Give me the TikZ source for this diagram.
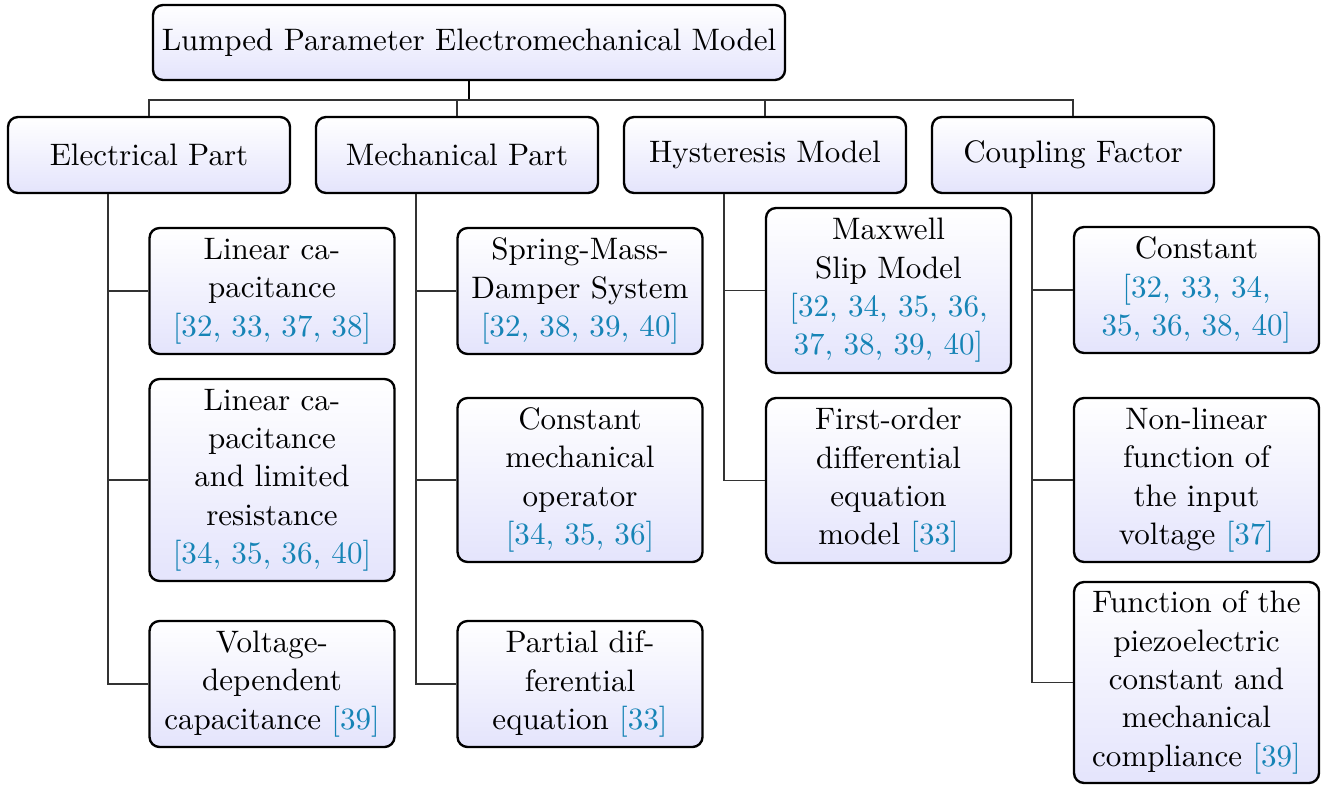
\documentclass[tikz,border=0pt]{standalone}
\usepackage{fontspec}
\usepackage{xcolor}
\definecolor{citeblue}{RGB}{22,132,182}
\definecolor{boxblue}{RGB}{228,228,252}
\newcommand\pxs{0.33898pt}
\newcommand\rf[1]{\textcolor{citeblue}{#1}}
\tikzset{
  box/.style={draw=black, line width=0.8pt, rounded corners=3.4pt,
    top color=white, bottom color=boxblue, align=center, inner sep=0pt,
    font=\fontsize{10.52}{13.0}\selectfont},
  lvone/.style={box, minimum width=282*\pxs, minimum height=76*\pxs},
  leaf/.style={box, minimum width=245*\pxs},
  link/.style={draw=black!80, line width=0.5pt}
}
\begin{document}
\begin{tikzpicture}[x=\pxs,y=-\pxs]
\useasboundingbox (0,0) rectangle (1324,784);
\node[box, minimum width=632*\pxs, minimum height=75*\pxs] (root) at (469,42.5) {Lumped Parameter Electromechanical Model};
\node[lvone] (E) at (149,155) {Electrical Part};
\node[lvone] (M) at (457,155) {Mechanical Part};
\node[lvone] (H) at (765,155) {Hysteresis Model};
\node[lvone] (C) at (1073,155) {Coupling Factor};
% electrical children
\node[leaf, minimum height=126*\pxs] (e1) at (272,291) {Linear ca-\\pacitance\\\rf{[32, 33, 37, 38]}};
\node[leaf, minimum height=202*\pxs] (e2) at (272,480) {Linear ca-\\pacitance\\and limited\\resistance\\\rf{[34, 35, 36, 40]}};
\node[leaf, minimum height=126*\pxs] (e3) at (272,684) {Voltage-\\dependent\\capacitance \rf{[39]}};
% mechanical children
\node[leaf, minimum height=126*\pxs] (m1) at (580,291) {Spring-Mass-\\Damper System\\\rf{[32, 38, 39, 40]}};
\node[leaf, minimum height=164*\pxs] (m2) at (580,480) {Constant\\mechanical\\operator\\\rf{[34, 35, 36]}};
\node[leaf, minimum height=126*\pxs] (m3) at (580,684) {Partial dif-\\ferential\\equation \rf{[33]}};
% hysteresis children
\node[leaf, minimum height=165*\pxs] (h1) at (888.5,290.5) {Maxwell\\Slip Model\\\rf{[32, 34, 35, 36,}\\\rf{37, 38, 39, 40]}};
\node[leaf, minimum height=165*\pxs] (h2) at (888.5,480.5) {First-order\\differential\\equation\\model \rf{[33]}};
% coupling children
\node[leaf, minimum height=126*\pxs] (c1) at (1196.5,290) {Constant\\\rf{[32, 33, 34,}\\\rf{35, 36, 38, 40]}};
\node[leaf, minimum height=164*\pxs] (c2) at (1196.5,480) {Non-linear\\function of\\the input\\voltage \rf{[37]}};
\node[leaf, minimum height=201*\pxs] (c3) at (1196.5,682.5) {Function of the\\piezoelectric\\constant and\\mechanical\\compliance \rf{[39]}};
% connectors
\coordinate (bus) at ([yshift=-19*\pxs]root.south);
\draw[link, draw=black, line width=0.8pt] (root.south) -- (bus);
\foreach \n in {E,M,H,C}{
  \draw[link] (bus) -| (\n.north);
}
\foreach \p/\c in {E/e1,E/e2,E/e3,M/m1,M/m2,M/m3,H/h1,H/h2,C/c1,C/c2,C/c3}{
  \draw[link] ([xshift=-41*\pxs]\p.south) |- (\c.west);
}
\end{tikzpicture}
\end{document}
